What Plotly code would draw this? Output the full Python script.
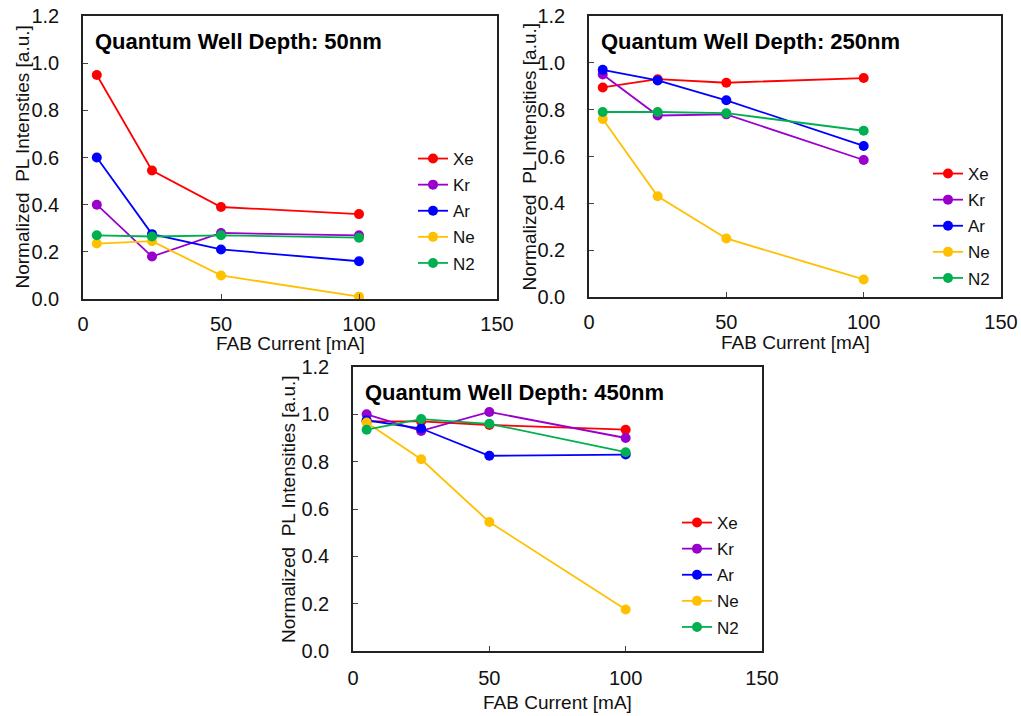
import plotly.graph_objects as go

fab_current = [5, 25, 50, 100]
gases = ["Xe", "Kr", "Ar", "Ne", "N2"]
colors = {"Xe": "#FF0000", "Kr": "#9900CC", "Ar": "#0000FF", "Ne": "#FFC000", "N2": "#00B050"}

depth_50 = {
    "Xe": [0.95, 0.545, 0.39, 0.36],
    "Kr": [0.40, 0.18, 0.28, 0.27],
    "Ar": [0.60, 0.275, 0.21, 0.16],
    "Ne": [0.235, 0.245, 0.10, 0.01],
    "N2": [0.27, 0.265, 0.27, 0.26],
}
depth_250 = {
    "Xe": [0.895, 0.93, 0.915, 0.935],
    "Kr": [0.95, 0.775, 0.78, 0.585],
    "Ar": [0.97, 0.925, 0.84, 0.645],
    "Ne": [0.76, 0.43, 0.25, 0.075],
    "N2": [0.79, 0.79, 0.785, 0.71],
}
depth_450 = {
    "Xe": [0.97, 0.97, 0.955, 0.935],
    "Kr": [1.0, 0.93, 1.01, 0.90],
    "Ar": [0.975, 0.94, 0.825, 0.83],
    "Ne": [0.965, 0.81, 0.545, 0.175],
    "N2": [0.935, 0.98, 0.96, 0.84],
}
panel_titles = ["Quantum Well Depth: 50nm", "Quantum Well Depth: 250nm", "Quantum Well Depth: 450nm"]
y_titles = ["Normalized  PL Intensties [a.u.]", "Normalized  PL Intensities [a.u.]", "Normalized  PL Intensities [a.u.]"]
x_title = "FAB Current [mA]"

W, H = 1021, 716
FONT = "Liberation Sans, Arial, sans-serif"

# plot areas in pixels (left, right, top, bottom)
areas = [(83, 497, 16, 299), (589, 1001, 16, 297), (353, 762, 367, 651)]
legend_pos = [(413, 141), (928, 156), (677, 505)]
ytitle_x = [22, 529, 288]
xtitle_gap = [44, 45, 51]   # px below the plot bottom (title centre)
xtick_standoff = [6, 6, 8]

fig = go.Figure()
datasets = [depth_50, depth_250, depth_450]
for i, data in enumerate(datasets):
    suffix = "" if i == 0 else str(i + 1)
    for g in gases:
        fig.add_trace(go.Scatter(
            x=fab_current, y=data[g], name=g, mode="lines+markers",
            line=dict(color=colors[g], width=1.8),
            marker=dict(color=colors[g], size=10),
            xaxis="x" + suffix, yaxis="y" + suffix,
            legend="legend" + suffix, legendgroup=f"{g}{i}",
        ))

layout = dict(
    width=W, height=H, margin=dict(l=0, r=0, t=0, b=0),
    paper_bgcolor="white", plot_bgcolor="white",
    font=dict(family=FONT, size=20, color="#111111"),
    annotations=[],
)
for i, (l, r, t, b) in enumerate(areas):
    suffix = "" if i == 0 else str(i + 1)
    xd = [l / W, r / W]
    yd = [1 - b / H, 1 - t / H]
    layout["xaxis" + suffix] = dict(
        domain=xd, range=[0, 150], tickvals=[0, 50, 100, 150],
        ticks="inside", ticklen=5, tickcolor="#444", tickwidth=1,
        showline=True, linecolor="#222", linewidth=1.5, mirror=True,
        showgrid=False, zeroline=False, automargin=False,
        anchor="y" + suffix, ticklabelstandoff=xtick_standoff[i],
        tickfont=dict(size=20, color="#111"),
    )
    layout["yaxis" + suffix] = dict(
        domain=yd, range=[0, 1.2], tickvals=[0, 0.2, 0.4, 0.6, 0.8, 1.0, 1.2],
        tickformat=".1f",
        ticks="inside", ticklen=5, tickcolor="#444", tickwidth=1,
        showline=True, linecolor="#222", linewidth=1.5, mirror=True,
        showgrid=False, zeroline=False, automargin=False,
        anchor="x" + suffix, ticklabelstandoff=18,
        tickfont=dict(size=20, color="#111"),
    )
    lx, ly = legend_pos[i]
    layout["legend" + suffix] = dict(
        x=lx / W, y=1 - ly / H, xanchor="left", yanchor="top",
        bgcolor="rgba(0,0,0,0)", font=dict(size=17, color="#111"),
        tracegroupgap=1, itemwidth=30,
    )
    layout["annotations"].append(dict(
        text="<b>" + panel_titles[i] + "</b>",
        xref="x" + suffix + " domain", yref="y" + suffix + " domain",
        x=0.025, y=0.91, xanchor="left", yanchor="middle", showarrow=False,
        font=dict(size=22, color="black", family=FONT),
    ))
    # axis titles
    layout["annotations"].append(dict(
        text=x_title, xref="x" + suffix + " domain", yref="paper",
        x=0.5, y=1 - (b + xtitle_gap[i]) / H, xanchor="center", yanchor="middle",
        showarrow=False, font=dict(size=19, color="#111", family=FONT),
    ))
    layout["annotations"].append(dict(
        text=y_titles[i], xref="paper", yref="y" + suffix + " domain",
        x=ytitle_x[i] / W, y=0.5, xanchor="center", yanchor="middle",
        textangle=-90, showarrow=False, font=dict(size=19, color="#111", family=FONT),
    ))

fig.update_layout(**layout)
fig.write_html("out.html")
